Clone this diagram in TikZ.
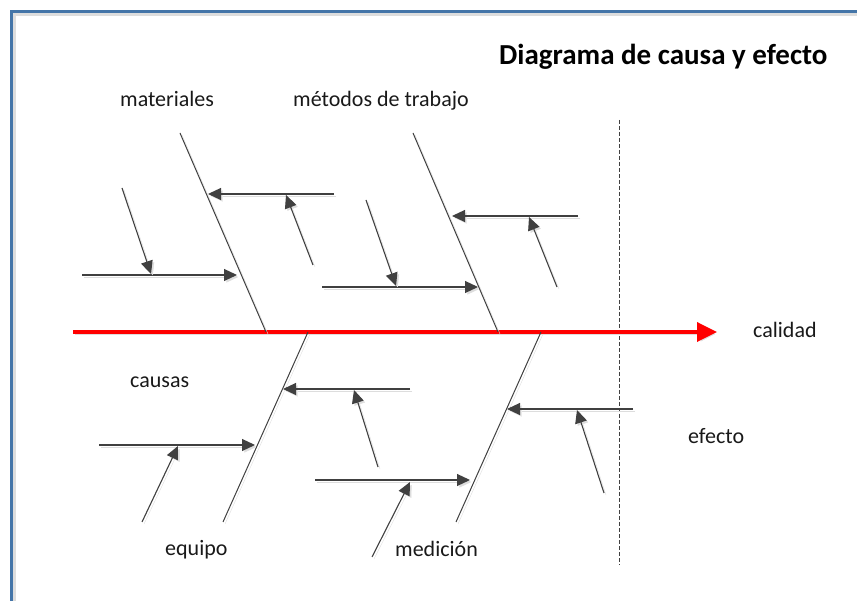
\documentclass[tikz,border=0pt]{standalone}
\usepackage{fontspec}
\setmainfont{Carlito}
\usetikzlibrary{arrows.meta, calc}
\definecolor{cframe}{HTML}{4475A8}
\definecolor{cbone}{HTML}{404040}
\definecolor{cshade}{HTML}{DDDDDD}
\definecolor{cspine}{HTML}{FF0000}

\begin{document}
\begin{tikzpicture}[x=1pt, y=-1pt,
    shade/.style={preaction={draw=cshade, transform canvas={shift={(2pt,-2pt)}}}},
    bone/.style={draw=cbone, line width=1pt, shade},
    cause/.style={draw=cbone, line width=1.1pt, shade, -{Triangle[length=13pt, width=12pt]}},
    spine/.style={draw=cspine, line width=3.5pt, shade, -{Triangle[length=20pt, width=19pt]}},
    lbl/.style={anchor=base west, inner sep=0pt, font=\fontsize{22}{26}\selectfont, text=black!90},
    title/.style={anchor=base west, inner sep=0pt, font=\fontsize{29}{34}\selectfont\bfseries},
]
\useasboundingbox (0,0) rectangle (857,601);

% frame
\draw[cshade, line width=3pt] (14.5,601) -- (14.5,14.5) -- (857,14.5);
\draw[cframe, line width=3pt] (11.5,601) -- (11.5,11.5) -- (857,11.5);

% texts
\node[title] (ttl) at (499,65) {Diagrama de causa y efecto};
\node[lbl] (mat) at (120,107) {materiales};
\node[lbl] (met) at (293,107) {métodos de trabajo};
\node[lbl] (cal) at (753,338) {calidad};
\node[lbl] (cau) at (130,388) {causas};
\node[lbl] (efe) at (688,443) {efecto};
\node[lbl] (equ) at (165,555) {equipo};
\node[lbl] (med) at (395,556) {medición};

% spine and effect line
\coordinate (s0) at (73,332);
\coordinate (s1) at (717,332);
\coordinate (d0) at (619,120);
\coordinate (d1) at (619,565);
\draw[cbone, line width=0.8pt, dash pattern=on 4pt off 2pt] (d0) -- (d1);
\draw[spine] (s0) -- (s1);

% main bones
\coordinate (b1a) at (180,133); \coordinate (b1b) at (266,332);
\coordinate (b2a) at (413,133); \coordinate (b2b) at (498,332);
\coordinate (b3a) at (308,332); \coordinate (b3b) at (223,522);
\coordinate (b4a) at (541,332); \coordinate (b4b) at (456,522);
\draw[bone] (b1a) -- (b1b);
\draw[bone] (b2a) -- (b2b);
\draw[bone] (b3a) -- (b3b);
\draw[bone] (b4a) -- (b4b);

% causes on materiales
\coordinate (h1) at (334,194); \coordinate (h1t) at (208,194);
\coordinate (c1) at (313,265); \coordinate (c1t) at (286,195);
\coordinate (h2) at (82,275);  \coordinate (h2t) at (237,275);
\coordinate (c2) at (122,188); \coordinate (c2t) at (151,274);
\draw[cause] (h1) -- (h1t);
\draw[cause] (c1) -- (c1t);
\draw[cause] (h2) -- (h2t);
\draw[cause] (c2) -- (c2t);

% causes on metodos de trabajo
\coordinate (h3) at (578,216); \coordinate (h3t) at (452,216);
\coordinate (c3) at (557,287); \coordinate (c3t) at (529,217);
\coordinate (h4) at (322,287); \coordinate (h4t) at (478,287);
\coordinate (c4) at (366,200); \coordinate (c4t) at (396,286);
\draw[cause] (h3) -- (h3t);
\draw[cause] (c3) -- (c3t);
\draw[cause] (h4) -- (h4t);
\draw[cause] (c4) -- (c4t);

% causes on equipo
\coordinate (h5) at (410,389); \coordinate (h5t) at (283,389);
\coordinate (c5) at (378,467); \coordinate (c5t) at (354,390);
\coordinate (h6) at (99,445);  \coordinate (h6t) at (255,445);
\coordinate (c6) at (142,522); \coordinate (c6t) at (178,446);
\draw[cause] (h5) -- (h5t);
\draw[cause] (c5) -- (c5t);
\draw[cause] (h6) -- (h6t);
\draw[cause] (c6) -- (c6t);

% causes on medicion
\coordinate (h7) at (633,409); \coordinate (h7t) at (507,409);
\coordinate (c7) at (604,493); \coordinate (c7t) at (577,410);
\coordinate (h8) at (315,480); \coordinate (h8t) at (470,480);
\coordinate (c8) at (372,557); \coordinate (c8t) at (410,482);
\draw[cause] (h7) -- (h7t);
\draw[cause] (c7) -- (c7t);
\draw[cause] (h8) -- (h8t);
\draw[cause] (c8) -- (c8t);

\end{tikzpicture}
\end{document}
